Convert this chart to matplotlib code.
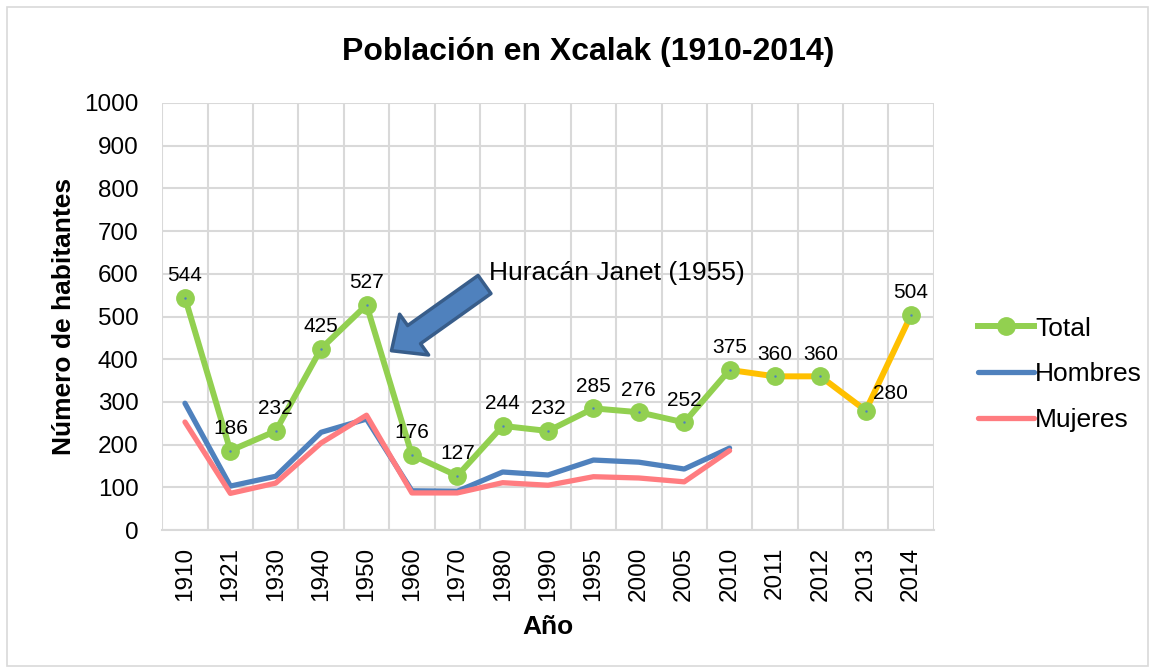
import matplotlib.pyplot as plt
from matplotlib.patches import Rectangle

plt.rcParams['font.family'] = ['Liberation Sans', 'DejaVu Sans']

years = ['1910', '1921', '1930', '1940', '1950', '1960', '1970', '1980', '1990',
         '1995', '2000', '2005', '2010', '2011', '2012', '2013', '2014']
total = [544, 186, 232, 425, 527, 176, 127, 244, 232, 285, 276, 252, 375, 360, 360, 280, 504]
hombres = [297, 103, 126, 229, 260, 92, 91, 136, 129, 164, 159, 143, 192]
mujeres = [253, 86, 110, 204, 269, 87, 87, 111, 105, 125, 122, 113, 186]

green = '#92d050'
orange = '#ffc000'
blue = '#4f81bd'
pink = '#ff7c80'
grid = '#d9d9d9'

fig = plt.figure(figsize=(11.55, 6.71), dpi=100)
fig.patches.append(Rectangle((0.006, 0.008), 0.988, 0.982, transform=fig.transFigure,
                             fill=False, ec=grid, lw=1.2))
ax = fig.add_axes([0.1405, 0.21, 0.668, 0.6365])

x = list(range(len(years)))
n_h = len(hombres)

ax.plot(x[:n_h], hombres, color=blue, lw=3.8, solid_capstyle='round', label='Hombres', zorder=3)
ax.plot(x[:n_h], mujeres, color=pink, lw=3.8, solid_capstyle='round', label='Mujeres', zorder=3)
ax.plot(x[n_h - 1:], total[n_h - 1:], color=orange, lw=4.3, zorder=4)
ax.plot(x[:n_h], total[:n_h], color=green, lw=4.3, zorder=4)
ax.plot(x, total, ls='none', marker='o', ms=12.5, mfc=green, mec=green, zorder=5)
ax.plot(x, total, ls='none', marker='.', ms=1.5, color=blue, zorder=6)
# entrada de leyenda para Total
ax.plot([], [], color=green, lw=4.3, marker='o', ms=12.5, label='Total')

offsets = {15: (18, 8)}
for i, v in enumerate(total):
    dx, dy = offsets.get(i, (0, 12))
    ax.annotate(str(v), (i, v), xytext=(dx, dy), textcoords='offset points',
                ha='center', va='baseline', fontsize=15, zorder=7)

ax.annotate('', xy=(4.55, 420), xytext=(6.6, 575),
            arrowprops=dict(arrowstyle='simple,head_width=3.6,head_length=2.0,tail_width=1.6',
                            mutation_scale=10, fc=blue, ec='#385d8a', lw=2.5,
                            shrinkA=0, shrinkB=0), zorder=8)
ax.text(6.7, 603, 'Huracán Janet (1955)', fontsize=19, va='center', ha='left')

ax.set_xlim(-0.5, len(years) - 0.5)
ax.set_ylim(0, 1000)
ax.set_yticks(range(0, 1001, 100))
ax.set_xticks(x)
ax.set_xticklabels(years, rotation=90, fontsize=17.5)
ax.tick_params(axis='y', labelsize=17.5, length=0, pad=17)
ax.tick_params(axis='x', which='major', length=0, pad=12)
ax.set_xticks([i - 0.5 for i in range(len(years) + 1)], minor=True)
ax.tick_params(axis='x', which='minor', length=0)
ax.grid(True, which='major', axis='y', color=grid, lw=1.5)
ax.grid(True, which='minor', axis='x', color=grid, lw=1.5)
ax.set_axisbelow(True)
for s in ax.spines.values():
    s.set_visible(False)
ax.spines['bottom'].set_visible(True)
ax.spines['bottom'].set_color(grid)
ax.spines['bottom'].set_linewidth(1.5)

fig.text(0.509, 0.922, 'Población en Xcalak (1910-2014)', fontsize=23,
         fontweight='bold', ha='center', va='center')
ax.set_xlabel('Año', fontsize=19, fontweight='bold', labelpad=10)
ax.set_ylabel('Número de habitantes', fontsize=19, fontweight='bold', labelpad=6)

handles, labels = ax.get_legend_handles_labels()
order = [labels.index('Total'), labels.index('Hombres'), labels.index('Mujeres')]
ax.legend([handles[i] for i in order], [labels[i] for i in order],
          loc='center left', bbox_to_anchor=(1.027, 0.365), frameon=False,
          fontsize=19, handlelength=2.1, labelspacing=0.82, handletextpad=0.05)

fig.savefig('out.png', dpi=100)
